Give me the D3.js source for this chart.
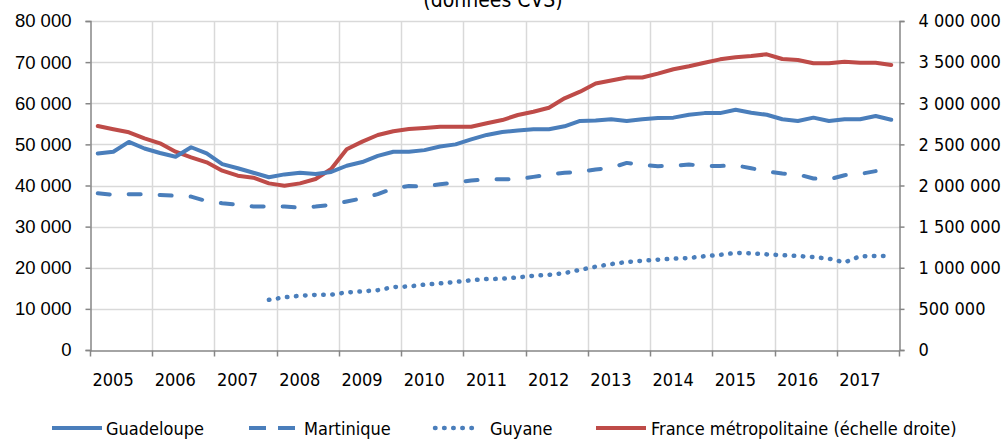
<!DOCTYPE html>
<meta charset="utf-8">
<script src="https://d3js.org/d3.v7.min.js"></script>
<style>
  body { margin: 0; background: #fff; }
  text { font-family: "DejaVu Sans Condensed", "DejaVu Sans", sans-serif; fill: #000; }
</style>
<div id="chart"></div>
<script>

// years on the category axis, one label per year, 4 quarters each
var years = ["2005","2006","2007","2008","2009","2010","2011","2012","2013","2014","2015","2016","2017"];
var quarters = [];
years.forEach(function(y){ ["T1","T2","T3","T4"].forEach(function(q){ quarters.push(y + q) }) });

// left axis series
var guadeloupe = [47800,48200,50600,49000,47900,47000,49300,47800,45200,44200,43100,42000,42700,43100,42800,43300,
  44800,45700,47200,48200,48200,48600,49500,50000,51200,52300,53000,53400,53700,53700,54400,55700,
  55800,56100,55700,56100,56400,56500,57200,57600,57600,58400,57700,57200,56100,55700,56500,55700,
  56100,56100,56900,56000];
var martinique = [38100,37700,37900,37900,37700,37500,37300,36200,35700,35300,34900,34900,34900,34600,34900,35300,
  36100,36900,37900,39300,39900,39700,40300,40700,41200,41500,41500,41500,42100,42700,43100,43300,
  43900,44300,45500,45000,44700,44800,45100,44750,44750,44900,44200,43400,42900,42700,41700,41500,
  42500,42800,43500,null];
var guyane = [null,null,null,null,null,null,null,null,null,null,null,12200,12800,13200,13400,13450,
  14000,14250,14550,15300,15450,15900,16200,16550,16950,17250,17330,17650,18050,18280,18700,19500,
  20250,20900,21400,21700,21970,22200,22380,22800,23150,23600,23500,23250,23050,22850,22600,22200,
  21300,22800,22870,22870];
// right axis series
var france = [2723000,2683000,2647000,2574000,2513000,2411000,2343000,2282000,2180000,2119000,2095000,2026000,1998000,2026000,2079000,2200000,
  2440000,2533000,2614000,2660000,2687000,2700000,2715000,2715000,2715000,2756000,2796000,2857000,2897000,2946000,3060000,3141000,
  3240000,3277000,3313000,3313000,3360000,3413000,3450000,3492000,3534000,3559000,3574000,3595000,3538000,3526000,3486000,3486000,
  3505000,3493000,3493000,3465000];

var leftTicks = [0,10000,20000,30000,40000,50000,60000,70000,80000];
var rightTicks = [0,500000,1000000,1500000,2000000,2500000,3000000,3500000,4000000];
var title = "(données CVS)";

var blue = "#4A7EBB", red = "#BE4B48", axisCol = "#868686", gridCol = "#D9D9D9";

var W = 1005, H = 439;
var plot = {left: 90, right: 899, top: 21, bottom: 350};

var svg = d3.select("#chart").append("svg")
  .attr("width", W).attr("height", H);

var x = d3.scaleBand().domain(quarters).range([plot.left, plot.right]).padding(0);
var cx = function(i){ return x(quarters[i]) + x.bandwidth() / 2 };
var yL = d3.scaleLinear().domain([0, 80000]).range([plot.bottom, plot.top]);
var yR = d3.scaleLinear().domain([0, 4000000]).range([plot.bottom, plot.top]);

var fmt = function(v){ return d3.format(",")(v).replace(/,/g, " ") };

// horizontal gridlines
svg.append("g").selectAll("line").data(leftTicks.slice(1)).enter().append("line")
  .attr("x1", plot.left).attr("x2", plot.right)
  .attr("y1", function(d){ return Math.round(yL(d)) + 0.5 })
  .attr("y2", function(d){ return Math.round(yL(d)) + 0.5 })
  .attr("stroke", gridCol).attr("stroke-width", 1.5);

// vertical gridlines at each year start
var yearStarts = years.map(function(y){ return x(y + "T1") });
svg.append("g").selectAll("line").data(yearStarts.slice(1)).enter().append("line")
  .attr("x1", function(d){ return Math.round(d) + 0.5 }).attr("x2", function(d){ return Math.round(d) + 0.5 })
  .attr("y1", plot.top).attr("y2", plot.bottom)
  .attr("stroke", gridCol).attr("stroke-width", 1.5);

// left axis
var gL = svg.append("g").attr("transform", "translate(" + (plot.left + 0.5) + ",0)")
  .call(d3.axisLeft(yL).tickValues(leftTicks).tickSize(5).tickPadding(14).tickFormat(fmt));
gL.selectAll("text").style("font-family", "'Liberation Sans', Arial, sans-serif").style("font-size", "18.5px");

// right axis
var gR = svg.append("g").attr("transform", "translate(" + (plot.right + 0.5) + ",0)")
  .call(d3.axisRight(yR).tickValues(rightTicks).tickSize(5).tickPadding(14).tickFormat(fmt));
gR.selectAll("text").style("font-size", "18px");

// bottom axis
var gB = svg.append("g").attr("transform", "translate(0," + (plot.bottom + 0.5) + ")")
  .call(d3.axisBottom(x).tickValues([]).tickSizeOuter(0));
gB.selectAll("line.yt").data(yearStarts.concat([plot.right])).enter().append("line")
  .attr("class", "yt")
  .attr("x1", function(d){ return Math.round(d) + 0.5 }).attr("x2", function(d){ return Math.round(d) + 0.5 })
  .attr("y1", 0).attr("y2", 6).attr("stroke", axisCol).attr("stroke-width", 1.5);
gB.selectAll("text.yl").data(years).enter().append("text")
  .attr("class", "yl")
  .attr("x", function(d){ return x(d + "T1") + 2.5 })
  .attr("y", 35)
  .attr("text-anchor", "start")
  .style("font-size", "18px")
  .text(function(d){ return d });

[gL, gR, gB].forEach(function(g){
  g.select(".domain").attr("stroke", axisCol).attr("stroke-width", 1.5);
  g.selectAll(".tick line").attr("stroke", axisCol).attr("stroke-width", 1.5);
  g.selectAll(".tick text").attr("fill", "#000");
});

// series
var lineL = d3.line().defined(function(d){ return d != null })
  .x(function(d, i){ return cx(i) }).y(function(d){ return yL(d) });
var lineR = d3.line()
  .x(function(d, i){ return cx(i) }).y(function(d){ return yR(d) });

var series = [
  {name: "France métropolitaine (échelle droite)", data: france, line: lineR, color: red, dash: null, width: 4, cap: "round"},
  {name: "Martinique", data: martinique, line: lineL, color: blue, dash: "12,19", width: 4, cap: "round"},
  {name: "Guyane", data: guyane, line: lineL, color: blue, dash: "0.5,8.6", width: 4.5, cap: "round"},
  {name: "Guadeloupe", data: guadeloupe, line: lineL, color: blue, dash: null, width: 4, cap: "round"}
];

series.forEach(function(s){
  svg.append("path")
    .datum(s.data)
    .attr("fill", "none")
    .attr("stroke", s.color)
    .attr("stroke-width", s.width)
    .attr("stroke-linejoin", "round")
    .attr("stroke-linecap", s.cap)
    .attr("stroke-dasharray", s.dash)
    .attr("d", s.line);
});

// title (cut at the top)
svg.append("text")
  .attr("x", 493).attr("y", 7)
  .attr("text-anchor", "middle")
  .style("font-size", "21px")
  .text(title);

// legend
var legendItems = [
  {name: "Guadeloupe", x1: 52, x2: 102, tx: 106, color: blue, dash: null},
  {name: "Martinique", x1: 249, x2: 296, tx: 304, color: blue, dash: "17,12"},
  {name: "Guyane", x1: 435, x2: 480, tx: 490, color: blue, dash: "0.5,8.6"},
  {name: "France métropolitaine (échelle droite)", x1: 596, x2: 646, tx: 651, color: red, dash: null}
];
var lg = svg.append("g").attr("transform", "translate(0,428)");
legendItems.forEach(function(d){
  lg.append("line")
    .attr("x1", d.x1).attr("x2", d.x2).attr("y1", 0).attr("y2", 0)
    .attr("stroke", d.color).attr("stroke-width", d.dash == "0.5,8.6" ? 4.5 : 4)
    .attr("stroke-linecap", d.dash == "0.5,8.6" ? "round" : "butt")
    .attr("stroke-dasharray", d.dash);
  lg.append("text")
    .attr("x", d.tx).attr("y", 7)
    .style("font-size", "18px")
    .text(d.name);
});

</script>
